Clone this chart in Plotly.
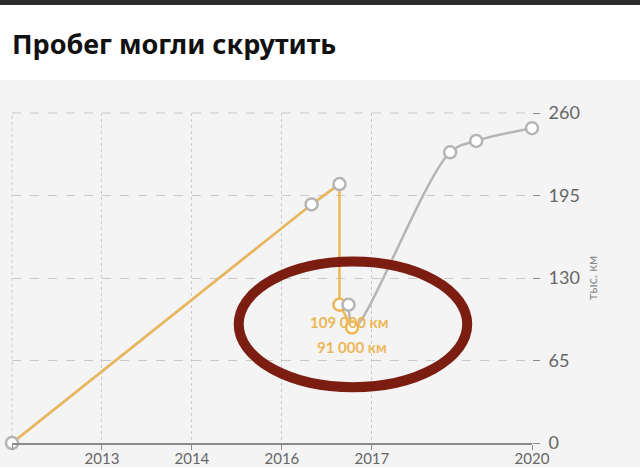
import plotly.graph_objects as go

# ---- data ----
title_text = "Пробег могли скрутить"
tick_pos = [0, 1, 2, 3, 4, 5.78]
tick_labels = ["", "2013", "2014", "2016", "2017", "2020"]

# grey series (one source of records)
grey_x = [0, 3.33, 3.64, 3.74, 3.80, 4.87, 5.16, 5.78]
grey_y = [0, 188, 204, 109, 91, 229, 238, 248]
# yellow series (suspicious records)
yellow_x = [0, 3.33, 3.64, 3.64, 3.78]
yellow_y = [0, 188, 204, 109, 91]
label_109 = "109 000 км"
label_91 = "91 000 км"
y_ticks = [0, 65, 130, 195, 260]
y_title = "тыс. км"

GREY = "#b5b5b5"
YELLOW = "#edb757"
BG = "#f4f4f4"
GRID = "#c9c9c9"

fig = go.Figure()

# grey straight part then smooth part
fig.add_trace(go.Scatter(x=grey_x[:3], y=grey_y[:3], mode="lines",
                         line=dict(color=GREY, width=2.5), cliponaxis=False,
                         hoverinfo="skip", showlegend=False))
fig.add_trace(go.Scatter(x=grey_x[3:], y=grey_y[3:], mode="lines",
                         line=dict(color=GREY, width=2.5, shape="spline", smoothing=1.0),
                         cliponaxis=False, hoverinfo="skip", showlegend=False))
# yellow line
fig.add_trace(go.Scatter(x=yellow_x, y=yellow_y, mode="lines",
                         line=dict(color=YELLOW, width=2.5), cliponaxis=False,
                         hoverinfo="skip", showlegend=False))
# yellow markers (last two points)
fig.add_trace(go.Scatter(x=yellow_x[3:], y=yellow_y[3:], mode="markers",
                         marker=dict(size=12, color="white", line=dict(color=YELLOW, width=2.5)),
                         cliponaxis=False, hoverinfo="skip", showlegend=False))
# grey markers (all except the 91 point)
gmx = [x for i, x in enumerate(grey_x) if i != 4]
gmy = [y for i, y in enumerate(grey_y) if i != 4]
fig.add_trace(go.Scatter(x=gmx, y=gmy, mode="markers",
                         marker=dict(size=12, color="white", line=dict(color=GREY, width=2.5)),
                         cliponaxis=False, hoverinfo="skip", showlegend=False))

shapes = [
    # white header band and dark top strip
    dict(type="rect", xref="paper", yref="paper", x0=-0.05, x1=1.25, y0=1.1, y1=1.36,
         fillcolor="white", line=dict(width=0), layer="below"),
    dict(type="rect", xref="paper", yref="paper", x0=-0.05, x1=1.25, y0=1.327, y1=1.36,
         fillcolor="#2b2b2b", line=dict(width=0), layer="below"),
    # edge grid lines (left dotted, top dashed)
    dict(type="line", xref="paper", yref="paper", x0=0, x1=0, y0=0, y1=1,
         line=dict(color=GRID, width=1, dash="dot"), layer="below"),
    dict(type="line", xref="paper", yref="paper", x0=0, x1=1, y0=1, y1=1,
         line=dict(color=GRID, width=1, dash="dash"), layer="below"),
    # hand-drawn red ellipse
    dict(type="circle", xref="x", yref="y", x0=2.52, x1=5.06, y0=44, y1=143,
         line=dict(color="#7b1d10", width=10), layer="above"),
]

annotations = [
    dict(xref="paper", yref="paper", x=-0.004, y=1.212, xanchor="left", yanchor="middle",
         text="<b>" + title_text + "</b>", showarrow=False,
         font=dict(family="Noto Sans", size=27, color="#111")),
    dict(x=yellow_x[3], y=yellow_y[3], text="<b>" + label_109 + "</b>", showarrow=False,
         xanchor="center", yanchor="middle", xshift=10, yshift=-17,
         font=dict(family="Lato", size=15, color=YELLOW)),
    dict(x=yellow_x[4], y=yellow_y[4], text="<b>" + label_91 + "</b>", showarrow=False,
         xanchor="center", yanchor="middle", xshift=0, yshift=-19,
         font=dict(family="Lato", size=15, color=YELLOW)),
]

fig.update_layout(
    width=640, height=467,
    margin=dict(l=12, r=108, t=113, b=24, autoexpand=False),
    paper_bgcolor=BG, plot_bgcolor=BG,
    shapes=shapes, annotations=annotations,
    xaxis=dict(range=[0, 5.78], tickvals=tick_pos, ticktext=tick_labels,
               showgrid=True, gridcolor=GRID, griddash="dot", gridwidth=1,
               showline=True, linecolor="#8a8a8a", linewidth=1.5,
               ticks="outside", ticklen=5, tickcolor="#8a8a8a",
               tickfont=dict(family="Lato", size=15, color="#666"),
               ticklabelstandoff=-4,
               zeroline=False, fixedrange=True, automargin=False),
    yaxis=dict(range=[0, 260], tickvals=y_ticks, side="right",
               showgrid=True, gridcolor=GRID, griddash="dash", gridwidth=1,
               showline=False, zeroline=False,
               ticks="outside", ticklen=7, tickcolor="#8a8a8a",
               tickfont=dict(family="Lato", size=18, color="#666"),
               ticklabelstandoff=5,
               title=dict(text=y_title, font=dict(family="Lato", size=13, color="#888"),
                          standoff=8),
               fixedrange=True, automargin=False),
)

fig.write_html("out.html", config={"displayModeBar": False},
               post_script="document.body.style.margin='0';")
